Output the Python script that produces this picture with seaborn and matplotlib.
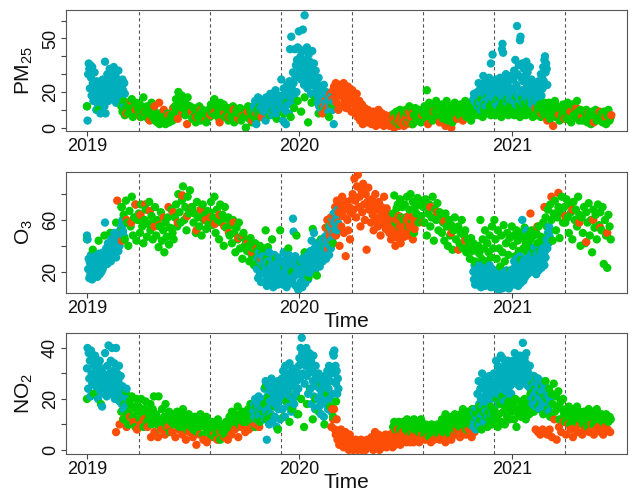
import numpy as np
import pandas as pd
import matplotlib
matplotlib.use("Agg")
import matplotlib.pyplot as plt
import seaborn as sns

# ---------------- data ----------------
# groups: "winter" (cyan), "lock" (orange), "other" (green)
# every series = start date + step in days + values

# PM2.5
pm_cyan_a = [12, 4, 30, 36, 33, 22, 35, 28, 18, 34, 25, 15, 20, 31, 17, 22, 10, 26, 19, 13, 24, 16, 21, 8, 18, 23, 14, 27, 20, 16, 12,
             37, 8, 24, 19, 30, 22, 15, 26, 33, 20, 28, 17, 31, 24, 21, 34, 18, 26, 29, 14, 23, 27, 19, 32, 22, 16, 25, 20,
             24, 18, 27, 21, 13, 25, 19, 12]
pm_cyan_b = [12, 9, 15, 11, 2, 14, 10, 17, 8, 13, 16, 11, 9, 15, 12, 10, 14,
             9, 15, 12, 4, 17, 10, 13, 8, 16, 11, 14, 19, 9, 12, 15, 7, 13, 17, 10, 14, 21, 11, 8, 16, 12, 18, 9, 15, 13, 10,
             27, 12, 18, 4, 22, 15, 10, 20, 2, 16, 24, 13, 19, 8, 26, 44, 17, 51, 22, 14, 31, 25, 18, 44, 28, 35, 20, 38, 45, 30, 54,
             44, 33, 40, 27, 36, 43, 55, 30, 24, 63, 31, 38, 28, 45, 22, 34, 41, 26, 37, 30, 19, 33, 43, 24, 29, 36, 17, 27, 32, 22, 25,
             18, 14, 28, 12, 16, 22, 10, 15, 19, 13, 17, 24, 11, 16, 14, 20, 12, 18, 15, 9, 17, 13, 16, 11, 14, 18, 10, 15, 2]
pm_cyan_c = [16, 19, 15, 18, 14, 17,
             15, 20, 12, 25, 18, 14, 22, 10, 17, 24, 13, 29, 19, 15, 21, 26, 12, 18, 23, 16, 20, 28, 14, 19, 36, 22, 17, 41, 25, 20,
             18, 24, 14, 27, 20, 12, 22, 16, 25, 19, 28, 23, 15, 44, 47, 42, 21, 26, 17, 24, 30, 19, 14, 25, 20, 27, 16, 22, 18, 29, 21,
             19, 27, 15, 32, 22, 38, 13, 24, 57, 30, 18, 35, 16, 49, 51, 28, 21, 36, 14, 26, 33, 19, 29, 17, 37, 23, 31, 15, 25, 20, 34,
             22, 16, 27, 13, 20, 18, 25, 12, 21, 15, 19, 23, 14, 17, 26, 20, 13, 24, 30, 18, 28, 22, 34, 26, 38, 40, 31, 36,
             33, 24]
pm_green_0 = [12, 10]
pm_green_a = [12, 9, 15, 7, 11, 14, 8, 13, 10, 16, 6, 12, 9, 14, 11,
              8, 13, 6, 10, 17, 7, 9, 12, 5, 11, 8, 14, 6, 9, 4,
              6, 3, 8, 2, 5, 7, 3, 6, 2, 4, 8, 3, 5, 7, 4,
              8, 12, 16, 10, 20, 14, 9, 18, 11, 15, 7, 13, 17, 10, 12,
              9, 5, 11, 7, 3, 10, 6, 12, 4, 8, 10, 5, 9, 3, 7,
              10, 6, 13, 8, 11, 16, 7, 12, 9, 5, 14, 10, 8, 13, 6, 11,
              8, 4, 11, 6, 9, 12, 3, 7, 10, 5, 8, 11, 4, 9, 6,
              10, 0, 7, 12, 5, 9, 3, 11, 6, 8, 4, 10, 7, 12, 9]
pm_green_w = [7, 10, 5, 12, 8, 14, 6, 11, 15, 9, 17, 3, 14, 16, 8, 12, 10, 6, 13]
pm_green_b = [5, 8, 3, 9, 6, 2, 10, 7, 4, 8,
              6, 10, 3, 8, 12, 5, 9, 2, 7, 11, 4, 8, 10, 6, 3, 9,
              8, 12, 5, 21, 10, 14, 7, 11, 4, 13, 9, 15, 6, 10, 12,
              9, 13, 5, 11, 8, 15, 4, 10, 7, 12, 3, 9, 14, 6, 11,
              10, 7, 13, 5, 12, 9, 15, 6, 11, 8, 14, 4, 10, 13, 7, 12,
              8, 14, 7, 11, 16, 6, 10, 13, 8, 17, 9, 12, 7, 15, 10,
              12, 7, 15, 9, 17, 11, 6, 14, 8, 13, 10, 16, 7, 12, 9,
              10, 15, 7, 12, 17, 8, 13, 6, 11, 16, 9, 14, 7, 12, 10, 15,
              8, 12, 6, 10, 15, 7, 11, 9, 13, 6, 10, 8, 14, 9,
              11, 7, 14, 5, 10, 13, 8, 15, 6, 12, 9, 4, 11, 7, 13,
              9, 12, 5, 14, 8, 10, 3, 13, 7, 11, 6, 15, 9, 4, 10,
              7, 4, 9, 5, 10, 3, 8, 6, 2, 9, 5, 7, 10, 4, 8, 6,
              5, 8, 3, 9, 6, 2, 7, 10, 4, 6]
pm_orange_a = [8, 15, 10, 6, 9, 4, 12, 14, 10, 7, 11, 5, 8, 2, 9, 6, 10, 4, 7, 9, 3, 8, 6, 10, 5, 7, 9, 4, 8, 6]
pm_orange_b = [8, 12, 10, 15, 9, 11, 14, 17, 12, 19, 13, 16, 21,
               23, 17, 25, 14, 20, 10, 24, 18, 22, 12, 19, 25, 15, 21, 11, 18, 23, 13, 16, 20, 9,
               21, 14, 17, 8, 12, 19, 6, 10, 15, 4, 9, 13, 2, 7, 11, 5, 8, 3, 10, 6,
               4, 8, 2, 6, 9, 3, 5, 1, 7, 4, 10, 2, 6, 3, 8, 5, 1, 4, 7, 2, 5,
               3, 6, 1, 4, 7, 2, 5, 0, 3, 6, 2, 4, 1, 5, 3, 7, 2, 4, 1, 3,
               5, 2, 7, 3, 9, 4, 6, 2, 8]
pm_orange_c1 = [4, 7, 2, 9, 3, 1, 0, 5, 4]
pm_orange_c2 = [11, 8, 4, 1, 7, 5, 9, 11, 6, 8, 3, 9, 6, 7]

# O3
o3_cyan_a = [48, 45, 22, 30, 15, 27, 18, 33, 24, 14, 20, 29, 17, 25, 32, 19, 23, 28, 16, 21, 26, 34, 18, 24, 30, 20, 27, 22, 35, 25, 31,
             58, 29, 38, 33, 26, 42, 36, 30, 40, 34, 28, 45, 37, 32, 41, 35, 50, 39, 44, 31, 46, 38, 42, 36, 48, 40, 52, 44,
             55, 48, 60, 51, 57, 47]
o3_cyan_b = [22, 30, 15, 26, 35, 18, 28, 12, 24, 32, 20, 27,
             19, 25, 12, 30, 17, 9, 22, 28, 14, 35, 20, 11, 24, 16, 29, 18, 8, 23, 33, 15, 21, 13, 26, 19, 10, 31, 17, 24, 14, 20,
             16, 28, 22, 10, 35, 19, 25, 13, 30, 8, 21, 27, 15, 33, 18, 24, 11, 29, 20, 14, 61, 51, 26, 17, 32, 9, 23, 19, 28, 6, 22,
             18, 25, 12, 29, 20, 8, 23, 31, 15, 27, 11, 21, 32, 17, 26, 14, 24, 19, 30, 36, 22, 44, 28, 33, 25, 50, 38, 21, 30, 42, 27,
             26, 33, 29, 38, 24, 35, 40, 31, 44, 28, 37, 42, 34, 47, 39, 30, 45, 36, 50, 41, 33, 48, 55, 38, 52, 45, 60, 48, 65,
             58, 50, 66, 54, 62, 52, 68, 57]
o3_cyan_c = [20, 14, 25, 10, 18, 22,
             14, 22, 10, 18, 25, 12, 20, 8, 16, 24, 11, 19, 14, 26, 9, 17, 21, 12, 23, 15, 10, 19, 25, 13, 8, 18, 22, 11, 16, 20,
             12, 18, 8, 15, 21, 10, 14, 6, 17, 11, 20, 9, 13, 7, 16, 19, 10, 12, 8, 18, 14, 21, 9, 15, 11, 7, 17, 13, 10, 20, 12,
             15, 22, 10, 28, 18, 12, 25, 30, 14, 20, 9, 26, 17, 32, 11, 23, 19, 60, 27, 13, 29, 21, 16, 24, 52, 30, 18, 26, 22, 31, 20,
             25, 33, 20, 36, 28, 22, 31, 39, 24, 30, 18, 34, 27, 32, 21, 37, 29, 26, 35, 23, 30, 38, 28, 33, 25, 36, 31, 40,
             45, 38, 50, 42, 55, 47, 52]
o3_green_0 = [45, 37, 44, 48, 50, 58, 70]
o3_green_a = [70, 52, 64, 45, 75, 58, 40, 67, 55, 78, 48, 62, 72, 44, 60,
              65, 50, 72, 55, 42, 60, 68, 47, 57, 74, 52, 63, 45, 58, 70,
              48, 60, 39, 55, 66, 44, 52, 35, 58, 47, 62, 41, 54, 68, 50, 45,
              62, 72, 55, 80, 66, 58, 75, 86, 60, 70, 52, 78, 65, 83, 68,
              70, 58, 65, 50, 74, 62, 55, 68, 48, 72, 60, 64, 53, 67, 57,
              66, 74, 56, 62, 78, 50, 68, 60, 45, 72, 58, 64, 40, 70, 54, 61,
              62, 48, 56, 42, 60, 50, 35, 54, 45, 58, 38, 47, 30, 50, 40,
              44, 36, 40, 28, 46, 33, 38, 25, 42, 31, 36, 27, 40, 30, 34, 24,
              38, 52, 30, 39, 26]
o3_green_w = [45, 30, 52, 24, 38, 20, 48, 28, 35, 16, 53, 17, 45, 39, 55, 42]
o3_green_b = [65, 79, 58, 69, 72, 55, 76, 62, 70, 60,
              72, 62, 78, 55, 68, 80, 60, 74, 50, 70, 65, 77, 58, 72, 63, 75,
              70, 58, 76, 48, 65, 72, 55, 62, 78, 44, 68, 60, 73, 52, 66,
              62, 50, 58, 44, 65, 55, 40, 60, 48, 56, 37, 52, 62, 45, 54,
              55, 42, 50, 60, 38, 48, 52, 35, 45, 40, 30, 46, 36, 42, 28, 38,
              26, 40, 34, 60, 30, 45, 38, 52, 28, 42, 35, 48, 31, 55, 38,
              60, 45, 30, 52, 38, 24, 48, 35, 56, 28, 42, 50, 33, 46, 21,
              55, 40, 48, 32, 52, 44, 36, 50, 29, 46, 38, 54, 42, 35, 48, 40,
              45, 52, 38, 48, 34, 50, 42, 55, 36, 47, 40, 58, 44, 62,
              55, 68, 48, 72, 60, 44, 65, 75, 52, 62, 70, 46, 66, 78, 58,
              70, 58, 76, 62, 50, 72, 66, 45, 74, 60, 68, 55, 78, 64, 40,
              62, 50, 70, 42, 66, 58, 73, 48, 60, 35, 68, 54, 64, 45, 72, 56,
              66, 52, 70, 26, 60, 48, 23, 64, 55, 45]
o3_orange_a = [75, 44, 60, 58, 72, 64, 72, 67, 55, 56, 62, 70, 66, 58, 79, 63,
               70, 52, 68, 60, 62, 57, 64, 55, 50, 58, 46, 48, 42, 35, 38, 30]
o3_orange_b = [54, 45, 60, 38, 52, 48, 62, 44, 57, 50,
               62, 70, 48, 75, 58, 66, 40, 72, 55, 78, 63, 50, 68, 32, 74, 60, 52, 70, 45, 65, 76,
               80, 68, 92, 75, 62, 86, 95, 70, 78, 55, 83, 66, 88, 72, 60, 80, 37, 74, 85, 68,
               70, 58, 76, 64, 52, 72, 80, 60, 68, 55, 74, 62, 48, 70, 66, 57, 78, 63, 53, 69, 60,
               58, 50, 64, 45, 56, 62, 48, 54, 40, 60, 52, 46, 63, 55, 42, 58, 50, 61, 47, 55,
               52, 60, 48, 63, 55, 58, 50, 62, 45, 57, 53, 60]
o3_orange_c1 = [63, 58, 70, 66, 59, 50, 37, 44]
o3_orange_c2 = [65, 55, 70, 78, 81, 63, 68, 58, 43, 60, 54, 50]

# NO2
no2_cyan_a = [32, 40, 24, 38, 28, 35, 21, 39, 30, 26, 36, 22, 33, 29, 37, 25, 31, 27, 34, 20, 30, 26, 35, 23, 28, 32, 17, 25, 30, 22, 27,
              38, 24, 29, 21, 33, 27, 41, 25, 30, 22, 35, 26, 40, 23, 31, 28, 34, 20, 26, 40, 24, 30, 22, 27, 33, 19, 25, 29,
              22, 18, 25, 20, 16, 23, 19, 21, 17, 24, 18, 20]
no2_cyan_b = [15, 18, 13, 20, 16, 12, 19, 14, 17, 21, 13, 18, 15, 20, 16, 14, 19, 17,
              18, 24, 12, 27, 15, 4, 21, 16, 25, 10, 19, 23, 14, 28, 17, 11, 22, 20, 26, 13, 18, 24, 9, 21, 27, 16, 19, 23, 12, 25,
              22, 28, 16, 31, 20, 25, 13, 33, 19, 27, 23, 30, 17, 24, 34, 21, 28, 15, 26, 32, 20, 29, 18, 25, 31, 22, 27, 14, 30, 24, 33,
              36, 28, 40, 34, 44, 38, 30, 39, 35, 26, 37, 33, 40, 29, 36, 22, 34, 38, 31, 24, 35, 18, 32, 27, 37, 21, 30, 16, 33, 25, 28,
              26, 20, 30, 17, 24, 28, 14, 22, 27, 19, 25, 13, 23, 29, 18, 26, 21, 31, 16, 24, 33, 20, 27, 30, 15, 32, 22, 38, 37,
              39, 30, 33, 26, 31, 22, 28, 24]
no2_cyan_c = [9, 14, 11, 16, 8, 13,
              16, 22, 12, 27, 18, 10, 24, 20, 14, 30, 17, 25, 11, 21, 28, 15, 23, 19, 26, 13, 22, 29, 17, 24, 20, 27, 14, 25, 21, 30,
              24, 30, 20, 35, 26, 22, 33, 28, 18, 31, 25, 37, 21, 29, 36, 24, 32, 19, 27, 34, 23, 30, 26, 35, 20, 28, 33, 25, 31, 22, 29,
              30, 35, 27, 33, 38, 29, 34, 26, 31, 36, 28, 32, 25, 37, 30, 35, 27, 33, 42, 29, 31, 36, 26, 34, 38, 28, 32, 25, 30, 27, 33,
              24, 28, 20, 26, 18, 25, 29, 22, 27, 17, 23, 26, 19, 28, 21, 25, 16, 24, 27, 20, 23, 18, 26, 22, 17, 25, 20, 23,
              19, 24, 17, 21, 15, 20, 18]
no2_green_0 = [20, 22, 18]
no2_green_a = [15, 20, 12, 18, 23, 14, 10, 19, 16, 21, 13, 17, 9, 20, 15,
               17, 12, 20, 14, 9, 16, 19, 11, 15, 13, 18, 10, 16, 21, 12,
               14, 10, 21, 12, 8, 16, 11, 13, 18, 9, 12, 15, 7, 11, 14, 10,
               13, 10, 15, 11, 9, 14, 12, 16, 10, 13, 8, 12, 14, 11, 9,
               11, 8, 13, 10, 7, 12, 9, 14, 10, 6, 11, 9, 13, 8, 10,
               9, 6, 11, 8, 5, 10, 7, 12, 8, 4, 9, 7, 10, 6, 11, 8,
               10, 13, 8, 15, 11, 9, 14, 12, 17, 10, 13, 9, 15, 11, 12,
               14, 11, 16, 12, 18, 10, 15, 13, 9, 17, 12, 14, 11, 16, 13, 15,
               18, 25, 12, 20, 14]
no2_green_w = [21, 13, 17, 8, 25, 13, 19, 11, 16, 22, 14, 20, 9, 18, 24, 12, 20, 15, 26, 10, 22, 17, 13, 19]
no2_green_b = [9, 11, 8, 10, 9, 11, 8, 10, 9, 11,
               10, 8, 12, 7, 9, 11, 6, 10, 12, 8, 9, 11, 7, 10, 12, 9,
               8, 6, 10, 7, 9, 5, 8, 10, 6, 9, 7, 8, 10, 6, 9,
               9, 12, 7, 11, 14, 8, 10, 13, 6, 11, 9, 12, 14, 8, 10,
               12, 9, 14, 11, 16, 10, 13, 8, 15, 12, 10, 14, 16, 11, 13, 15,
               14, 10, 17, 12, 8, 15, 11, 16, 13, 9, 15, 12, 17, 10, 14,
               16, 12, 20, 9, 14, 18, 11, 21, 15, 10, 17, 13, 19, 12, 16,
               15, 18, 12, 20, 9, 16, 14, 19, 13, 17, 15, 20, 12, 18, 16, 14,
               22, 18, 26, 15, 24, 20, 28, 17, 23, 19, 25, 14, 21, 27,
               20, 16, 24, 13, 22, 18, 26, 15, 21, 17, 23, 12, 19, 16, 20,
               14, 11, 16, 13, 17, 10, 15, 12, 16, 14, 11, 17, 13, 15, 12,
               13, 10, 15, 12, 14, 9, 16, 11, 13, 15, 10, 14, 12, 16, 11, 13,
               12, 14, 11, 13, 10, 14, 12, 11, 13, 12]
no2_orange_a = [7, 10, 12, 9, 13, 11, 8, 10, 12, 9, 5, 7, 5, 8, 6, 9, 7, 5, 8, 6, 4,
                7, 5, 2, 6, 4, 3, 5, 6, 4, 7, 5, 4, 6, 8, 5, 9, 7, 8, 9, 10, 9]
no2_orange_b = [9, 16, 12,
                16, 8, 6, 12, 4, 7, 2, 5, 8, 3, 6, 1, 4, 7, 2, 5, 3, 0, 6, 2, 4,
                2, 0, 3, 1, 4, 2, 0, 3, 1, 2, 4, 0, 2, 3, 1, 0, 2, 4, 1, 3,
                3, 1, 5, 2, 0, 4, 7, 2, 1, 3, 6, 0, 2, 5, 1, 3, 4, 2, 6, 1, 3,
                4, 2, 6, 3, 5, 1, 7, 4, 2, 5, 3, 8, 4, 6, 2, 5, 3, 7, 4, 5,
                5, 3, 6, 4, 5, 3, 6, 4, 5, 3, 6, 4]
no2_orange_c1 = [5, 3, 6, 4, 5, 3, 4, 5, 4, 6, 3, 5, 4, 6, 8, 5, 7, 6, 8, 5, 7]
no2_orange_c2 = [8, 7, 6, 8, 7, 6, 8, 5, 12, 4, 9, 7, 11, 6, 10, 8, 5, 9, 7, 10, 6, 8,
                 9, 7, 10, 6, 8, 9, 7, 6, 9, 8, 7]

# axis settings
pm_yticks = [0, 10, 20, 30, 40, 50, 60]
pm_ylabels = ["0", "", "20", "", "", "50", ""]
o3_yticks = [20, 40, 60, 80]
o3_ylabels = ["20", "", "60", ""]
no2_yticks = [0, 10, 20, 30, 40]
no2_ylabels = ["0", "", "20", "", "40"]
year_ticks = ["2019-01-01", "2020-01-01", "2021-01-01"]
year_labels = ["2019", "2020", "2021"]
season_lines = ["2019-04-01", "2019-08-01", "2019-12-01", "2020-04-01",
                "2020-08-01", "2020-12-01", "2021-04-01"]

colors = {"winter": "#00AFBB", "lock": "#FC4E07", "other": "#00CC00"}


def segment(values, start, step, group):
    dates = pd.Timestamp(start) + pd.to_timedelta(np.arange(len(values)) * step, unit="D")
    return pd.DataFrame({"date": dates, "value": values, "group": group})


pm_df = pd.concat([
    segment(pm_cyan_a, "2019-01-01", 1, "winter"),
    segment(pm_cyan_b, "2019-10-15", 1, "winter"),
    segment(pm_cyan_c, "2020-10-26", 1, "winter"),
    segment(pm_green_0, "2019-01-01", 20, "other"),
    segment(pm_green_a, "2019-03-01", 2, "other"),
    segment(pm_green_w, "2019-11-11", 6, "other"),
    segment(pm_green_b, "2020-06-10", 2, "other"),
    segment(pm_orange_a, "2019-03-10", 8, "lock"),
    segment(pm_orange_b, "2020-02-10", 1.5, "lock"),
    segment(pm_orange_c1, "2020-07-20", 10, "lock"),
    segment(pm_orange_c2, "2021-02-10", 10, "lock"),
]).sort_values("date")

o3_df = pd.concat([
    segment(o3_cyan_a, "2019-01-01", 1, "winter"),
    segment(o3_cyan_b, "2019-10-20", 1, "winter"),
    segment(o3_cyan_c, "2020-10-26", 1, "winter"),
    segment(o3_green_0, "2019-01-01", 10, "other"),
    segment(o3_green_a, "2019-03-01", 2, "other"),
    segment(o3_green_w, "2019-11-15", 7, "other"),
    segment(o3_green_b, "2020-06-10", 2, "other"),
    segment(o3_orange_a, "2019-02-22", 8, "lock"),
    segment(o3_orange_b, "2020-02-15", 1.5, "lock"),
    segment(o3_orange_c1, "2020-07-20", 12, "lock"),
    segment(o3_orange_c2, "2021-02-01", 12, "lock"),
]).sort_values("date")

no2_df = pd.concat([
    segment(no2_cyan_a, "2019-01-01", 1, "winter"),
    segment(no2_cyan_b, "2019-10-14", 1, "winter"),
    segment(no2_cyan_c, "2020-10-26", 1, "winter"),
    segment(no2_green_0, "2019-01-01", 12, "other"),
    segment(no2_green_a, "2019-03-01", 2, "other"),
    segment(no2_green_w, "2019-11-10", 5, "other"),
    segment(no2_green_b, "2020-06-10", 2, "other"),
    segment(no2_orange_a, "2019-02-20", 6, "lock"),
    segment(no2_orange_b, "2020-02-25", 1.5, "lock"),
    segment(no2_orange_c1, "2020-07-20", 5, "lock"),
    segment(no2_orange_c2, "2021-02-10", 4, "lock"),
]).sort_values("date")

# ---------------- plotting ----------------
sns.set_style("ticks")
plt.rcParams["font.family"] = ["Liberation Sans", "DejaVu Sans"]
plt.rcParams["mathtext.fontset"] = "custom"
plt.rcParams["mathtext.rm"] = "Liberation Sans"
plt.rcParams["mathtext.it"] = "Liberation Sans:italic"

fig = plt.figure(figsize=(6.3, 4.91), dpi=100)
boxes = [[0.1048, 0.733, 0.8905, 0.2464],
         [0.1048, 0.4027, 0.8905, 0.2477],
         [0.1048, 0.0754, 0.8905, 0.2470]]

panels = [
    (pm_df, r"PM$_{25}$", (-1.9, 65.9), pm_yticks, pm_ylabels, False),
    (o3_df, r"O$_{3}$", (3.3, 97.4), o3_yticks, o3_ylabels, True),
    (no2_df, r"NO$_{2}$", (-1.6, 46.0), no2_yticks, no2_ylabels, True),
]

for box, (df, ylab, ylim, yt, ytl, show_time) in zip(boxes, panels):
    ax = fig.add_axes(box)
    sns.scatterplot(data=df, x="date", y="value", hue="group", palette=colors,
                    s=36, linewidth=0, alpha=1, legend=False, ax=ax, zorder=3)
    for d in season_lines:
        ax.axvline(pd.Timestamp(d), color="#555555", lw=0.8, ls=(0, (3, 2.5)), zorder=2)

    ax.set_xlim(pd.Timestamp("2018-11-26"), pd.Timestamp("2021-07-17"))
    ax.set_ylim(*ylim)
    ax.set_xticks([pd.Timestamp(t) for t in year_ticks])
    ax.set_xticklabels(year_labels)
    ax.set_yticks(yt)
    ax.set_yticklabels(ytl)
    ax.tick_params(axis="both", direction="out", length=3.5, width=0.8,
                   color="#444444", labelsize=13, pad=1.5, labelcolor="#111111")
    ax.tick_params(axis="y", labelrotation=90)
    plt.setp(ax.get_yticklabels(), va="center")
    for sp in ax.spines.values():
        sp.set_visible(True)
        sp.set_color("#555555")
        sp.set_linewidth(0.8)

    ax.set_ylabel("")
    ax.text(-0.074, 0.5, ylab, transform=ax.transAxes, rotation=90,
            ha="center", va="center", fontsize=15, color="#111111")
    if show_time:
        ax.set_xlabel("Time", fontsize=15, labelpad=-3.5, color="#111111")
    else:
        ax.set_xlabel("")

fig.savefig("out.png", dpi=100)
